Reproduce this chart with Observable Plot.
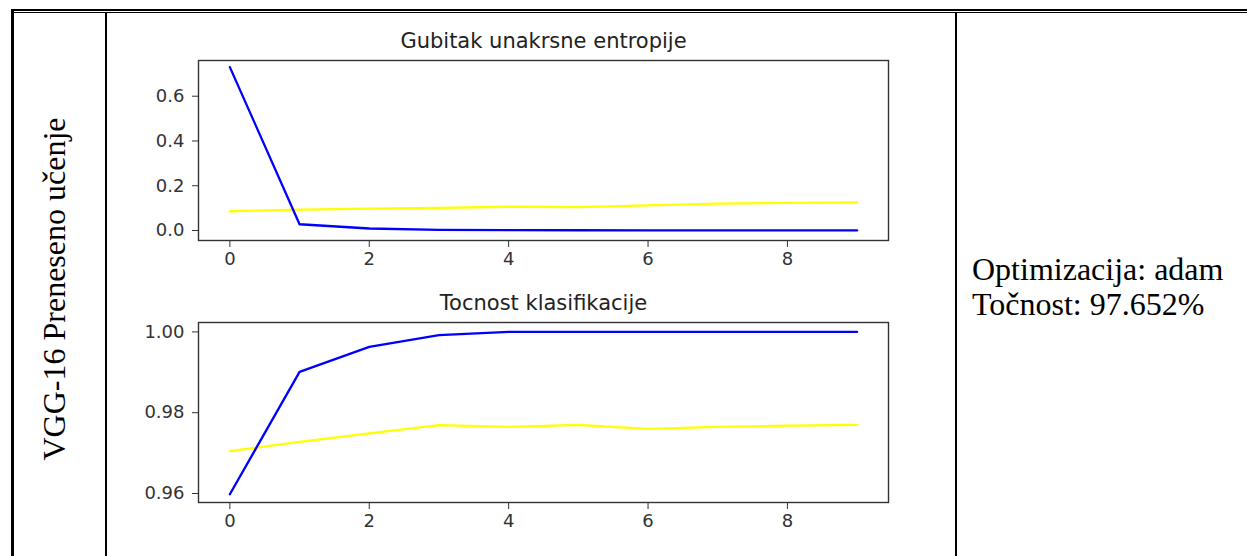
<!DOCTYPE html>
<html>
<head>
<meta charset="utf-8">
<script src="https://cdn.jsdelivr.net/npm/d3@7"></script>
<script src="https://cdn.jsdelivr.net/npm/@observablehq/plot@0.6"></script>
<style>
  html, body { margin: 0; padding: 0; background: #fff; }
  #page { position: relative; width: 1247px; height: 556px; overflow: hidden; background: #fff; }
  .ln { position: absolute; background: #000; }
  .plot { position: absolute; }
</style>
</head>
<body>
<div id="page">
  <div class="ln" style="left:11px; top:9px; width:1236px; height:2px;"></div>
  <div class="ln" style="left:11px; top:12px; width:1236px; height:1px;"></div>
  <div class="ln" style="left:11px; top:9px; width:3px; height:547px;"></div>
  <div class="ln" style="left:105px; top:12px; width:2px; height:544px;"></div>
  <div class="ln" style="left:955px; top:12px; width:2px; height:544px;"></div>
  <svg style="position:absolute; left:0; top:0;" width="1247" height="556">
    <text id="rowLabel" transform="translate(65,289) rotate(-90)" text-anchor="middle"
      font-family="Liberation Serif, Times New Roman, serif" font-size="32" fill="#000"></text>
    <text id="info1" x="972" y="280" font-family="Liberation Serif, Times New Roman, serif" font-size="32" fill="#000"></text>
    <text id="info2" x="972" y="315" font-family="Liberation Serif, Times New Roman, serif" font-size="32" fill="#000"></text>
  </svg>
  <div id="top" class="plot" style="left:120px; top:20px;"></div>
  <div id="bottom" class="plot" style="left:120px; top:282px;"></div>
</div>
<script>
const rowLabel = "VGG-16 Preneseno učenje";
const infoLines = ["Optimizacija: adam", "Točnost: 97.652%"];
const titles = ["Gubitak unakrsne entropije", "Tocnost klasifikacije"];

const epochs = [0, 1, 2, 3, 4, 5, 6, 7, 8, 9];
const trainLoss = [0.73, 0.028, 0.009, 0.003, 0.0015, 0.001, 0.0008, 0.0006, 0.0005, 0.0004];
const valLoss = [0.086, 0.093, 0.098, 0.101, 0.106, 0.104, 0.112, 0.120, 0.123, 0.125];
const trainAcc = [0.9598, 0.9901, 0.9963, 0.9992, 1.0, 1.0, 1.0, 1.0, 1.0, 1.0];
const valAcc = [0.9705, 0.9728, 0.9749, 0.9769, 0.9765, 0.9770, 0.9760, 0.9765, 0.9768, 0.9770];

const xTicks = [0, 2, 4, 6, 8];
const lossTicks = [0.0, 0.2, 0.4, 0.6];
const accTicks = [0.96, 0.98, 1.00];

document.getElementById("rowLabel").textContent = rowLabel;
document.getElementById("info1").textContent = infoLines[0];
document.getElementById("info2").textContent = infoLines[1];

function chart(title, train, val, yDomain, yTicks, yFmt) {
  const rows = epochs.map((e, i) => ({epoch: e, train: train[i], val: val[i]}));
  return Plot.plot({
    width: 800,
    height: 260,
    marginLeft: 78,
    marginRight: 32,
    marginTop: 40,
    marginBottom: 40,
    style: {fontFamily: "DejaVu Sans, sans-serif", fontSize: "18px", color: "#333", background: "transparent", overflow: "visible"},
    x: {domain: [-0.45, 9.45], ticks: xTicks, tickFormat: d => String(d), tickSize: 7, tickPadding: 5, label: null},
    y: {domain: yDomain, ticks: yTicks, tickFormat: yFmt, tickSize: 6, tickPadding: 8, label: null},
    marks: [
      Plot.line(rows, {x: "epoch", y: "val", stroke: "#ffff00", strokeWidth: 2.3}),
      Plot.line(rows, {x: "epoch", y: "train", stroke: "#0000ff", strokeWidth: 2.3}),
      Plot.frame({stroke: "#333", strokeWidth: 1.4}),
      Plot.text([title], {text: d => d, frameAnchor: "top", dy: -13, lineAnchor: "bottom", fontSize: 21, fill: "#222"})
    ]
  });
}

document.getElementById("top").append(
  chart(titles[0], trainLoss, valLoss, [-0.0447, 0.7596], lossTicks, d3.format(".1f"))
);
document.getElementById("bottom").append(
  chart(titles[1], trainAcc, valAcc, [0.95777, 1.00233], accTicks, d3.format(".2f"))
);
</script>
</body>
</html>
